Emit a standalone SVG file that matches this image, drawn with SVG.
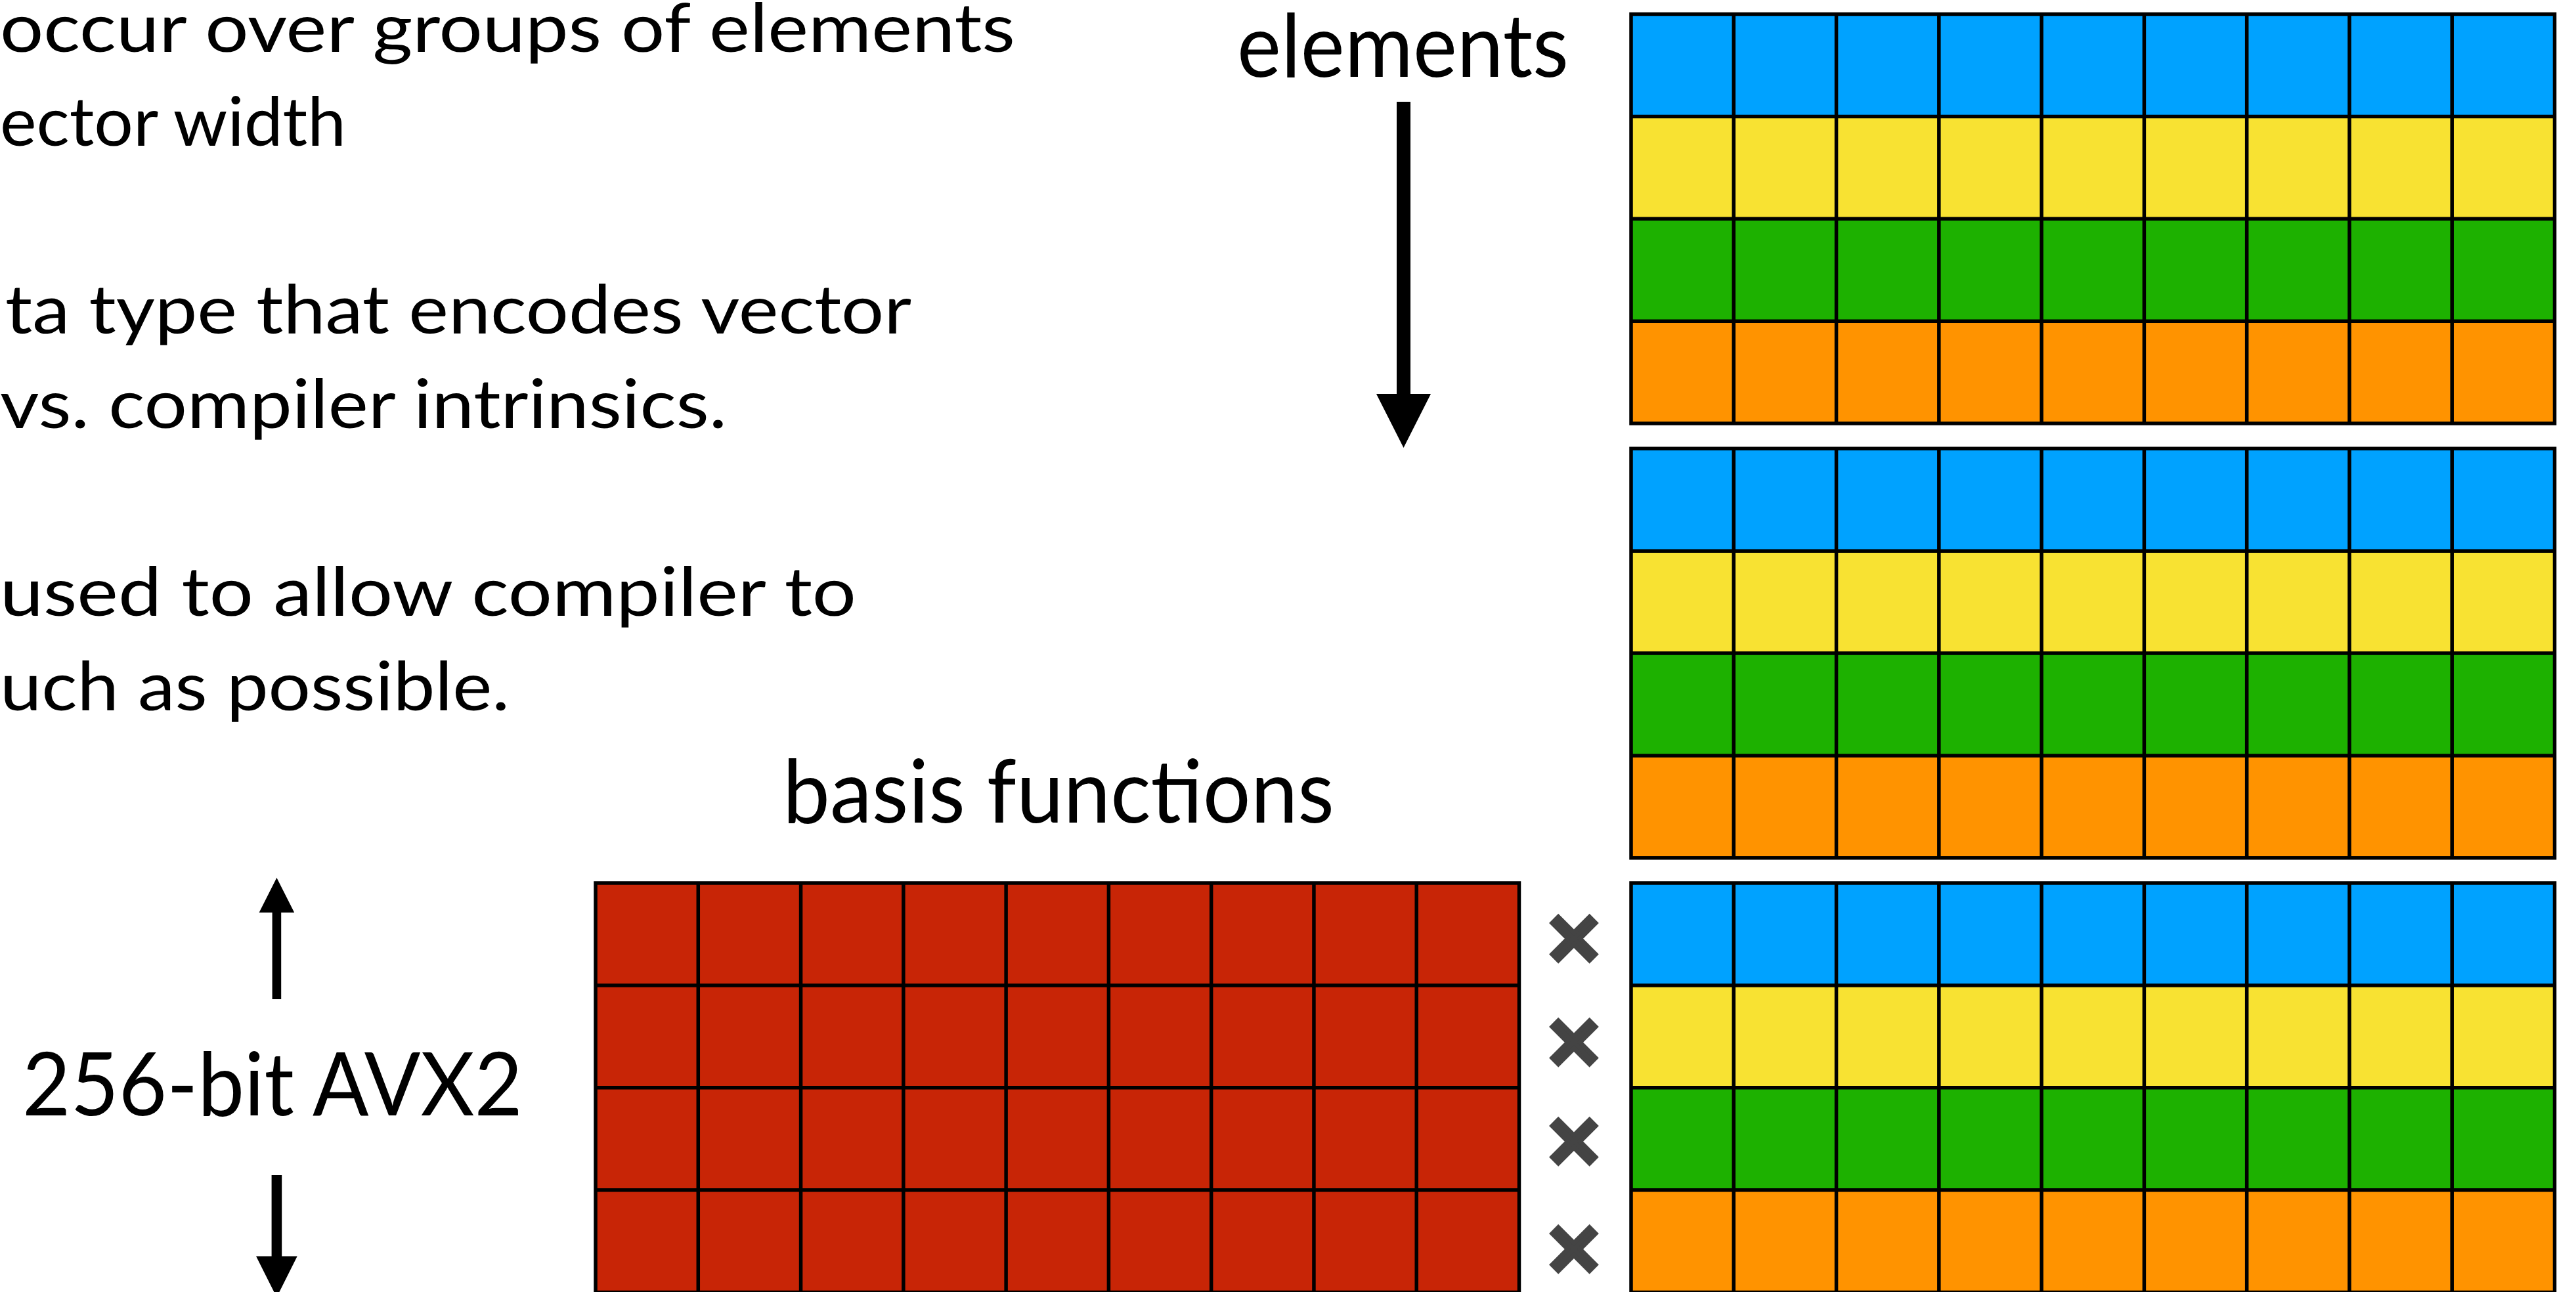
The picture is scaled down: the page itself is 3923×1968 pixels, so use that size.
<svg xmlns="http://www.w3.org/2000/svg" xmlns:xlink="http://www.w3.org/1999/xlink" width="3923" height="1968" viewBox="0 0 3923 1968">
  <style>
    .body { font-family: Lato, "Open Sans", "Liberation Sans", sans-serif; font-size: 102px; fill: #000; }
    .label { font-family: Lato, "Open Sans", "Liberation Sans", sans-serif; font-size: 134px; fill: #000; }
    .mul { font-family: "DejaVu Sans", "Liberation Sans", sans-serif; font-weight: bold; font-size: 112px; fill: #444444; stroke: #444444; stroke-width: 7; stroke-linejoin: miter; }
    .gl { stroke: #000; stroke-width: 5.5; fill: none; }
    .blue { fill: #00A2FF; }
    .yellow { fill: #F8E232; }
    .green { fill: #1DB100; }
    .orange { fill: #FF9300; }
    .red { fill: #C82506; }
    .arrow { fill: #000; }
  </style>
  <defs>
    <g id="lines">
      <path class="gl" d="M156.28,0V623.5M312.56,0V623.5M468.83,0V623.5M625.11,0V623.5M781.39,0V623.5M937.67,0V623.5M1093.94,0V623.5M1250.22,0V623.5M0,155.875H1406.5M0,311.75H1406.5M0,467.625H1406.5"/>
      <rect class="gl" x="0" y="0" width="1406.5" height="623.5"/>
    </g>
    <g id="vecgrid">
      <rect class="blue" x="0" y="0" width="1406.5" height="155.875"/>
      <rect class="yellow" x="0" y="155.875" width="1406.5" height="155.875"/>
      <rect class="green" x="0" y="311.75" width="1406.5" height="155.875"/>
      <rect class="orange" x="0" y="467.625" width="1406.5" height="155.875"/>
      <use xlink:href="#lines"/>
    </g>
  </defs>
  <rect x="0" y="0" width="3923" height="1968" fill="#FFFFFF"/>

  <g id="text-block">
    <text class="body" x="0" y="79" textLength="1546" lengthAdjust="spacingAndGlyphs">occur over groups of elements</text>
    <text class="body" x="0" y="222" textLength="527" lengthAdjust="spacingAndGlyphs">ector width</text>
    <text class="body" x="8" y="508" textLength="1380" lengthAdjust="spacingAndGlyphs">ta type that encodes vector</text>
    <text class="body" x="0" y="652" textLength="1107" lengthAdjust="spacingAndGlyphs">vs. compiler intrinsics.</text>
    <text class="body" x="0" y="938" textLength="1304" lengthAdjust="spacingAndGlyphs">used to allow compiler to</text>
    <text class="body" x="0" y="1082" textLength="776" lengthAdjust="spacingAndGlyphs">uch as possible.</text>
  </g>

  <g id="label-elements">
    <text class="label" x="1884" y="117" textLength="505" lengthAdjust="spacingAndGlyphs">elements</text>
  </g>
  <g id="label-basis">
    <text class="label" x="1192" y="1253" textLength="840" lengthAdjust="spacingAndGlyphs">basis functions</text>
  </g>
  <g id="label-avx">
    <text class="label" x="34" y="1699" textLength="762" lengthAdjust="spacingAndGlyphs">256-bit AVX2</text>
  </g>

  <g id="grid-elements-1">
    <use xlink:href="#vecgrid" x="2484" y="21.5"/>
  </g>
  <g id="grid-elements-2">
    <use xlink:href="#vecgrid" x="2484" y="683.3"/>
  </g>
  <g id="grid-elements-3">
    <use xlink:href="#vecgrid" x="2484" y="1345"/>
  </g>
  <g id="grid-basis">
    <rect class="red" x="907" y="1345" width="1406.5" height="623.5"/>
    <use xlink:href="#lines" x="907" y="1345"/>
  </g>

  <g id="multiply-signs">
    <text class="mul" x="2397" y="1426" text-anchor="middle" dominant-baseline="central">×</text>
    <text class="mul" x="2397" y="1584" text-anchor="middle" dominant-baseline="central">×</text>
    <text class="mul" x="2397" y="1735" text-anchor="middle" dominant-baseline="central">×</text>
    <text class="mul" x="2397" y="1899" text-anchor="middle" dominant-baseline="central">×</text>
  </g>

  <g id="connectors">
    <path class="arrow" d="M2127,155H2148V600H2179L2137.5,682L2096,600H2127Z"/>
    <path class="arrow" d="M414.6,1522V1390H394.6L421.4,1337L448.2,1390H428.2V1522Z"/>
    <path class="arrow" d="M413.6,1790H429.2V1913.5H452.7L421.4,1976L390,1913.5H413.6Z"/>
  </g>
</svg>
